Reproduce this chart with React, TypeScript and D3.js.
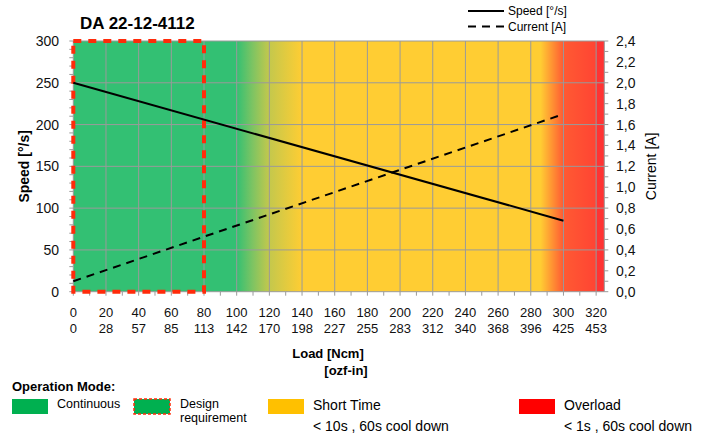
import React from "react";
import * as d3 from "d3";

const title = "DA 22-12-4112";
const loadTicks = [0, 20, 40, 60, 80, 100, 120, 140, 160, 180, 200, 220, 240, 260, 280, 300, 320];
const ozfLabels = ["0", "28", "57", "85", "113", "142", "170", "198", "227", "255", "283", "312", "340", "368", "396", "425", "453"];
const speedTicks = [0, 50, 100, 150, 200, 250, 300];
const currentTicks = [0, 0.2, 0.4, 0.6, 0.8, 1.0, 1.2, 1.4, 1.6, 1.8, 2.0, 2.2, 2.4];
const loadData = [0, 300];
const speedData = [250, 85];
const currentData = [0.1, 1.7];
const designRange = [0, 80];
// background zones: [load, color]
const zoneStops: [number, string][] = [
  [0, "#33C073"],
  [100, "#33C073"],
  [110, "#7fc462"],
  [120, "#c4c84c"],
  [140, "#FFCD33"],
  [286, "#FFCD33"],
  [300, "#FF5A33"],
  [320, "#FF4433"],
  [320.01, "#FF3333"],
  [325, "#FF3333"],
];

const FONT = "'Liberation Sans', Arial, sans-serif";

export default function App() {
  const left = 73.3, right = 604.3, top = 41, bottom = 291.7;
  const x = d3.scaleLinear().domain([0, 325]).range([left, right]);
  const yS = d3.scaleLinear().domain([0, 300]).range([bottom, top]);
  const yC = d3.scaleLinear().domain([0, 2.4]).range([bottom, top]);

  const speedLine = d3.line<number>().x((d, i) => x(loadData[i])).y((d) => yS(d));
  const currentLine = d3.line<number>().x((d, i) => x(loadData[i])).y((d) => yC(d));

  const minorX = d3.range(0, 326, 10);
  const minorS = d3.range(0, 301, 10);
  const minorC = d3.range(0, 24.01, 1).map((v) => v / 10);
  const grid = "#9a9a9a";

  return (
    <svg width={704} height={437} style={{ position: "absolute", left: 0, top: 0 }} fontFamily={FONT}>
      <defs>
        <linearGradient id="zones" x1={left} x2={right} y1={0} y2={0} gradientUnits="userSpaceOnUse">
          {zoneStops.map(([v, c], i) => (
            <stop key={i} offset={(x(v) - left) / (right - left)} stopColor={c} />
          ))}
        </linearGradient>
      </defs>
      <rect x={left} y={top} width={right - left} height={bottom - top} fill="url(#zones)" />
      {/* grid */}
      {loadTicks.map((t) => (
        <line key={"gx" + t} x1={x(t)} x2={x(t)} y1={top} y2={bottom} stroke={grid} strokeWidth={1} />
      ))}
      {speedTicks.map((t) => (
        <line key={"gy" + t} x1={left} x2={right} y1={yS(t)} y2={yS(t)} stroke={grid} strokeWidth={1} />
      ))}
      <line x1={right} x2={right} y1={top} y2={bottom} stroke={grid} />
      {/* ticks */}
      {minorX.map((t) => (
        <line key={"tx" + t} x1={x(t)} x2={x(t)} y1={bottom} y2={bottom + 4} stroke={grid} />
      ))}
      {minorS.map((t) => (
        <line key={"ts" + t} x1={left - 4} x2={left} y1={yS(t)} y2={yS(t)} stroke={grid} />
      ))}
      {minorC.map((t) => (
        <line key={"tc" + t} x1={right} x2={right + 4} y1={yC(t)} y2={yC(t)} stroke={grid} />
      ))}
      {/* design requirement */}
      <rect
        x={x(designRange[0])}
        y={yS(300)}
        width={x(designRange[1]) - x(designRange[0])}
        height={yS(0) - yS(300)}
        fill="none"
        stroke="#FF2B0A"
        strokeWidth={4}
        strokeDasharray="8,7"
      />
      {/* series */}
      <path d={speedLine(speedData) || ""} fill="none" stroke="#000" strokeWidth={2} />
      <path d={currentLine(currentData) || ""} fill="none" stroke="#000" strokeWidth={2} strokeDasharray="8,6" />
      {/* axis labels */}
      {loadTicks.map((t, i) => (
        <g key={"lx" + t} fontSize={13} textAnchor="middle" fill="#111">
          <text x={x(t)} y={317}>{t}</text>
          <text x={x(t)} y={333}>{ozfLabels[i]}</text>
        </g>
      ))}
      {speedTicks.map((t) => (
        <text key={"ls" + t} x={59} y={yS(t) + 5} fontSize={14} textAnchor="end" fill="#111">{t}</text>
      ))}
      {currentTicks.map((t) => (
        <text key={"lc" + t} x={616} y={yC(t) + 5} fontSize={14} fill="#111">{t.toFixed(1).replace(".", ",")}</text>
      ))}
      <text x={328} y={358} fontSize={13} fontWeight="bold" textAnchor="middle">Load [Ncm]</text>
      <text x={346} y={375} fontSize={13} fontWeight="bold" textAnchor="middle">[ozf-in]</text>
      <text transform={`translate(29,${(top + bottom) / 2}) rotate(-90)`} fontSize={14} fontWeight="bold" textAnchor="middle">Speed [°/s]</text>
      <text transform={`translate(656,${(top + bottom) / 2}) rotate(-90)`} fontSize={14} textAnchor="middle">Current [A]</text>
      <text x={80} y={29} fontSize={17} fontWeight="bold">{title}</text>
      {/* top legend */}
      <line x1={468} x2={504} y1={11} y2={11} stroke="#000" strokeWidth={2} />
      <text x={508} y={15} fontSize={12}>Speed [°/s]</text>
      <line x1={468} x2={504} y1={26.5} y2={26.5} stroke="#000" strokeWidth={2} strokeDasharray="8,6" />
      <text x={508} y={31} fontSize={12}>Current [A]</text>
      {/* operation mode legend */}
      <text x={12} y={391} fontSize={13} fontWeight="bold">Operation Mode:</text>
      <rect x={12} y={399} width={36} height={15} fill="#00B050" />
      <text x={57} y={408} fontSize={12.5}>Continuous</text>
      <rect x={134} y={399} width={36} height={15} fill="#00B050" stroke="#FF2B0A" strokeWidth={1.5} strokeDasharray="3,2" />
      <text x={180} y={408} fontSize={12.5}>Design</text>
      <text x={180} y={422} fontSize={12.5}>requirement</text>
      <rect x={268} y={399} width={36} height={15} fill="#FFC000" />
      <text x={313} y={410} fontSize={14}>Short Time</text>
      <text x={313} y={431} fontSize={14}>{"< 10s , 60s cool down"}</text>
      <rect x={519} y={399} width={36} height={15} fill="#FF0000" />
      <text x={564} y={410} fontSize={14}>Overload</text>
      <text x={564} y={431} fontSize={14}>{"< 1s , 60s cool down"}</text>
    </svg>
  );
}
